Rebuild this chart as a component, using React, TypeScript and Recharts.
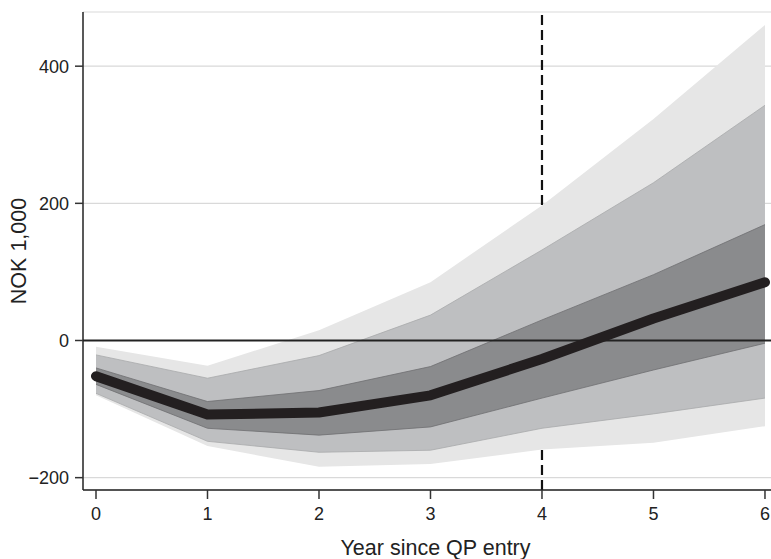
import React from 'react';
import { ComposedChart, Area, Line, XAxis, YAxis, CartesianGrid, ReferenceLine, Label } from 'recharts';

const years = [0, 1, 2, 3, 4, 5, 6];
const estimate = [-52, -108, -105, -80, -27, 32, 85];
const outerLow = [-80, -154, -184, -180, -159, -149, -125];
const outerHigh = [-9, -37, 15, 85, 197, 323, 460];
const midLow = [-77, -147, -163, -160, -128, -107, -84];
const midHigh = [-21, -55, -22, 37, 132, 230, 343];
const innerLow = [-64, -128, -138, -126, -84, -43, -4];
const innerHigh = [-40, -89, -73, -38, 30, 96, 169];
const xTicks = [0, 1, 2, 3, 4, 5, 6];
const yTicks = [-200, 0, 200, 400];
const entryYear = 4;

const data = years.map((y, i) => ({
  year: y,
  outer: [outerLow[i], outerHigh[i]],
  mid: [midLow[i], midHigh[i]],
  inner: [innerLow[i], innerHigh[i]],
  est: estimate[i],
}));

const FONT = "'Liberation Sans', Arial, Helvetica, sans-serif";
const fmt = (v: number) => (v < 0 ? `\u2212${Math.abs(v)}` : `${v}`);

export default function App() {
  return (
    <div style={{ position: 'absolute', left: 0, top: 0, background: '#fff' }}>
      <ComposedChart width={771} height={559} data={data} margin={{ top: 12, right: 0, bottom: 0, left: 0 }}>
        <CartesianGrid horizontal vertical={false} stroke="#d9d9d9" strokeWidth={1.2} />
        <XAxis
          dataKey="year"
          type="number"
          domain={[-0.1166, 6.054]}
          ticks={xTicks}
          allowDataOverflow
          interval={0}
          height={69}
          tickSize={9}
          tickMargin={8}
          tick={{ fill: '#222', fontSize: 18, fontFamily: FONT }}
          axisLine={{ stroke: '#222', strokeWidth: 1.5 }}
          tickLine={{ stroke: '#333', strokeWidth: 1.5 }}
        >
          <Label
            content={() => (
              <text x={435.5} y={555} textAnchor="middle" fill="#222" fontSize={21.5} fontFamily={FONT}>
                Year since QP entry
              </text>
            )}
          />
        </XAxis>
        <YAxis
          type="number"
          domain={[-218, 479]}
          ticks={yTicks}
          allowDataOverflow
          interval={0}
          width={83}
          tickSize={8}
          tickMargin={6}
          tickFormatter={fmt}
          tick={{ fill: '#222', fontSize: 18, fontFamily: FONT }}
          axisLine={{ stroke: '#222', strokeWidth: 1.5 }}
          tickLine={{ stroke: '#333', strokeWidth: 1.5 }}
        >
          <Label
            content={() => (
              <text
                x={19}
                y={251}
                transform="rotate(-90, 19, 251)"
                textAnchor="middle"
                dominantBaseline="central"
                fill="#222"
                fontSize={21.5}
                fontFamily={FONT}
              >
                NOK 1,000
              </text>
            )}
          />
        </YAxis>
        <ReferenceLine x={entryYear} stroke="#111" strokeWidth={2.2} strokeDasharray="10 5" zIndex={50} />
        <Area type="linear" dataKey="outer" fill="#e6e6e6" fillOpacity={1} stroke="none" isAnimationActive={false} />
        <Area type="linear" dataKey="mid" fill="#bebfc1" fillOpacity={1} stroke="#a8a9ab" strokeWidth={0.8} isAnimationActive={false} />
        <Area type="linear" dataKey="inner" fill="#8a8b8d" fillOpacity={1} stroke="#6e6f71" strokeWidth={0.8} isAnimationActive={false} />
        <ReferenceLine y={0} stroke="#222" strokeWidth={2} zIndex={150} />
        <Line
          type="linear"
          dataKey="est"
          stroke="#231f20"
          strokeWidth={10}
          strokeLinecap="round"
          strokeLinejoin="round"
          dot={false}
          activeDot={false}
          isAnimationActive={false}
        />
      </ComposedChart>
    </div>
  );
}
